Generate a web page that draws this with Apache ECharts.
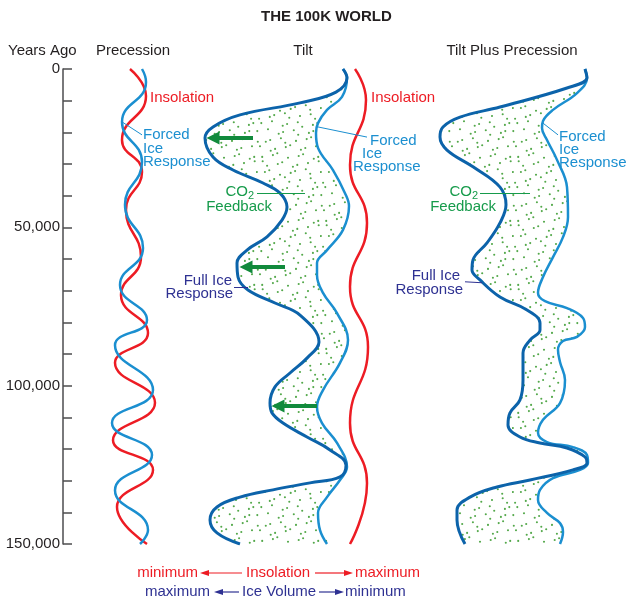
<!DOCTYPE html>
<html><head><meta charset="utf-8">
<script src="https://cdn.jsdelivr.net/npm/echarts@6/dist/echarts.min.js"></script>
<style>html,body{margin:0;padding:0;background:#fff}#c{width:628px;height:600px}</style>
</head><body><div id="c"></div>
<script>
// ---------- DATA (x = relative amplitude within each panel, y = years ago) ----------
var yLabelTicks = [0, 50000, 100000, 150000];

var precInsolX = [-3, 13, -11, 9, -7, 8, -12, 15, -18, 22, -20, 20, -16, 14];
var precInsolY = [0, 8500, 22400, 32500, 44500, 59400, 71400, 83400, 92800, 105400, 117200, 126600, 138300, 150000];
var precIceX = [9, 13, -11, 9, -8, 10, -13, 14, -18, 20, -21, 19, -18, 15, 7];
var precIceY = [0, 4100, 16700, 29400, 42900, 56500, 68200, 79300, 87200, 101400, 111800, 121900, 133000, 145600, 150000];

var tiltInsolX = [55, 66, 50, 67, 50, 68, 50, 67, 50];
var tiltInsolY = [0, 9800, 30300, 48600, 68800, 87800, 111800, 130800, 150000];
var tiltForcedX = [43, 47, 42, 27, 18, 16, 18, 33, 45, 49, 43, 27, 17, 17, 23, 37, 48, 40, 23, 17, 22, 37, 47, 40, 27, 18, 20, 27];
var tiltForcedY = [0, 2800, 8800, 12900, 17100, 20200, 24900, 31900, 39200, 43300, 50800, 57200, 61300, 65100, 70700, 77100, 85600, 92800, 101400, 106700, 111800, 118100, 125700, 129800, 135200, 140200, 145600, 150000];
var tiltFullX = [43, 47, 36, 0, -60, -87, -95, -87, -67, -37, -20, -13, -18, -33, -53, -63, -62, -52, -25, 0, 19, 7, -10, -25, -30, -28, -17, 7, 30, 46, 40, 10, -27, -60, -83, -90, -83, -60];
var tiltFullY = [0, 2800, 7300, 10700, 14500, 18300, 21800, 27800, 31900, 36000, 39200, 43600, 47700, 53000, 57200, 61300, 65700, 69800, 73900, 77700, 86200, 91300, 96000, 100400, 105500, 108600, 111800, 116200, 120300, 125100, 128800, 130700, 132900, 135200, 138300, 142400, 146500, 150000];

var tppForcedX = [73, 75, 65, 41, 31, 30, 35, 45, 55, 56, 51, 41, 31, 26, 33, 55, 71, 73, 65, 51, 46, 48, 53, 48, 31, 26, 35, 61, 75, 76, 68, 41, 28, 26, 35, 48, 51, 48];
var tppForcedY = [0, 2800, 7600, 12900, 16400, 18600, 22400, 28700, 37300, 46700, 53100, 59400, 65700, 70700, 73300, 75500, 78600, 81500, 84600, 85900, 88700, 92500, 98200, 105500, 110800, 114900, 117800, 119400, 121900, 124400, 126600, 129200, 132900, 136100, 140200, 143400, 146200, 150000];
var tppFullX = [73, 75, 55, -12, -52, -69, -72, -65, -39, -12, -6, -12, -25, -39, -40, -32, -12, 15, 28, 28, 18, 11, 11, 8, -2, -4, 8, 28, 55, 73, 75, 61, 18, -15, -42, -55, -55, -47];
var tppFullY = [0, 2800, 6000, 12000, 15200, 18300, 21500, 25600, 30900, 37300, 42900, 48600, 54900, 60300, 63500, 66600, 72000, 76100, 80200, 82400, 85600, 89700, 98200, 104500, 108600, 112400, 116200, 118100, 119700, 122500, 124400, 126600, 129800, 132000, 135200, 139300, 142400, 150000];

// CO2 feedback arrows in Tilt panel: [start x, end x, years]
var co2Arrows = [[-47, -87, 21800], [-15, -54, 62500], [17, -22, 106400]];

// ---------- LAYOUT / STYLE ----------
var PREC = 133, TILT = 300, TPP = 512;
var RED = '#ed1c24', LBLUE = '#1b8fd0', DBLUE = '#0c63aa', NAVY = '#2e3192', GREEN = '#169b4b', AGREEN = '#118a3c', INK = '#231f20';
var FONT = '"Liberation Sans", Arial, Helvetica, sans-serif';

function pts(off, xs, ys) { return xs.map(function (x, i) { return [off + x, ys[i]]; }); }

var tile = document.createElement('canvas');
tile.width = 64; tile.height = 64;
(function () {
  var g = tile.getContext('2d');
  g.fillStyle = '#53a84a';
  for (var r = 0; r < 8; r++) for (var c = 0; c < 8; c++) {
    var jx = ((r * 5 + c * 3) % 7 - 3) * 0.9;
    var jy = ((r * 3 + c * 5 + 2) % 7 - 3) * 0.9;
    var x = (c * 8 + 4 + (r % 2) * 4 + jx + 64) % 64, y = (r * 8 + 4 + jy + 64) % 64;
    g.beginPath(); g.arc(x, y, 1.05, 0, Math.PI * 2); g.fill();
  }
})();
var dotPattern = { image: tile, repeat: 'repeat' };

function fillSeries(off, ax, ay, bx, by) {
  return {
    type: 'custom', coordinateSystem: 'cartesian2d', silent: true, z: 1, clip: true,
    data: [[off, 0]],
    renderItem: function (params, api) {
      var p = [];
      for (var i = 0; i < ax.length; i++) p.push(api.coord([off + ax[i], ay[i]]));
      for (var j = bx.length - 1; j >= 0; j--) p.push(api.coord([off + bx[j], by[j]]));
      return { type: 'polygon', shape: { points: p, smooth: 0.4 }, style: { fill: dotPattern, stroke: null } };
    }
  };
}
function lineSeries(name, off, xs, ys, color, width, z, markLine, smooth) {
  var s = { name: name, type: 'line', data: pts(off, xs, ys), smooth: smooth || 0.4, symbol: 'none', showSymbol: false,
    silent: true, z: z, lineStyle: { color: color, width: width }, itemStyle: { color: color } };
  if (markLine) s.markLine = markLine;
  return s;
}
function leader(x1, x2, y1, y2) { return [{ coord: [x1, y1] }, { coord: [x2, y2] }]; }
function mlThin(color, data) {
  return { silent: true, symbol: ['none', 'none'], label: { show: false }, lineStyle: { color: color, width: 1, type: 'solid' }, emphasis: { disabled: true }, data: data };
}

var arrowML = {
  silent: true, symbol: ['none', 'triangle'], symbolSize: 13, label: { show: false },
  lineStyle: { color: AGREEN, width: 4, type: 'solid' }, itemStyle: { color: AGREEN }, emphasis: { disabled: true },
  data: co2Arrows.map(function (a) { return [{ coord: [TILT + a[0], a[2]] }, { coord: [TILT + a[1], a[2]] }]; })
};

function txt(x, y, t, color, align) {
  return { type: 'text', silent: true, z: 10,
    style: { text: t, x: x, y: y, fill: color, font: '15px ' + FONT, align: align || 'left', verticalAlign: 'middle' } };
}
function co2(xRight, y) {
  return { type: 'text', silent: true, z: 10, style: {
    text: '{a|CO}{b|2}', x: xRight, y: y, align: 'right', verticalAlign: 'middle', fill: GREEN,
    rich: { a: { fontSize: 15, fontFamily: FONT, fill: GREEN, color: GREEN },
            b: { fontSize: 11, fontFamily: FONT, fill: GREEN, color: GREEN, padding: [7, 0, 0, 0] } } } };
}
function arrowG(x1, x2, y, color) {
  var d = x2 > x1 ? 1 : -1;
  return [
    { type: 'line', silent: true, shape: { x1: x1, y1: y, x2: x2 - d * 6, y2: y }, style: { stroke: color, lineWidth: 1.2 } },
    { type: 'polygon', silent: true, shape: { points: [[x2, y], [x2 - d * 9, y - 3], [x2 - d * 9, y + 3]] }, style: { fill: color } }
  ];
}

var graphics = [
  txt(8, 51, 'Years Ago', INK), txt(133, 51, 'Precession', INK, 'center'), txt(303, 51, 'Tilt', INK, 'center'),
  txt(512, 51, 'Tilt Plus Precession', INK, 'center'),
  txt(150, 98, 'Insolation', RED), txt(371, 98, 'Insolation', RED),
  txt(143, 135, 'Forced', LBLUE), txt(143, 149, 'Ice', LBLUE), txt(143, 162, 'Response', LBLUE),
  txt(370, 141, 'Forced', LBLUE), txt(362, 154, 'Ice', LBLUE), txt(353, 167, 'Response', LBLUE),
  txt(559, 137, 'Forced', LBLUE), txt(559, 150, 'Ice', LBLUE), txt(559, 163, 'Response', LBLUE),
  co2(254, 192), txt(272, 207, 'Feedback', GREEN, 'right'),
  co2(478, 192), txt(496, 207, 'Feedback', GREEN, 'right'),
  txt(232, 281, 'Full Ice', NAVY, 'right'), txt(233, 294, 'Response', NAVY, 'right'),
  txt(460, 276, 'Full Ice', NAVY, 'right'), txt(463, 290, 'Response', NAVY, 'right'),
  txt(198, 573, 'minimum', RED, 'right'), txt(246, 573, 'Insolation', RED), txt(355, 573, 'maximum', RED),
  txt(210, 592, 'maximum', NAVY, 'right'), txt(242, 592, 'Ice Volume', NAVY), txt(345, 592, 'minimum', NAVY)
].concat(arrowG(242, 200, 573, RED), arrowG(315, 353, 573, RED), arrowG(239, 214, 592, NAVY), arrowG(319, 344, 592, NAVY));

var chart = echarts.init(document.getElementById('c'));
chart.setOption({
  animation: false,
  backgroundColor: '#fff',
  title: { text: 'THE 100K WORLD', left: 261, top: 9, padding: 0,
    textStyle: { fontSize: 15, fontWeight: 'bold', color: INK, fontFamily: FONT } },
  grid: { left: 63, right: 0, top: 69, bottom: 56, containLabel: false },
  xAxis: { type: 'value', min: 63, max: 628, show: false },
  yAxis: {
    type: 'value', inverse: true, min: 0, max: 150000, interval: 10000,
    axisLine: { show: true, onZero: false, lineStyle: { color: '#4d4d4f', width: 1.5 } },
    axisTick: { show: true, inside: true, length: 9, lineStyle: { color: '#4d4d4f', width: 1.5 } },
    axisLabel: { margin: 3, fontSize: 15, color: INK, fontFamily: FONT,
      formatter: function (v) { return yLabelTicks.indexOf(v) >= 0 ? v.toLocaleString('en-US') : ''; } },
    splitLine: { show: false }
  },
  series: [
    fillSeries(TILT, tiltFullX, tiltFullY, tiltForcedX, tiltForcedY),
    fillSeries(TPP, tppFullX, tppFullY, tppForcedX, tppForcedY),
    lineSeries('Precession insolation', PREC, precInsolX, precInsolY, RED, 2.5, 3,
      mlThin(NAVY, [leader(TILT - 66, TILT - 52, 68800, 68800), leader(TPP - 47, TPP - 30, 67200, 67500)]), 0.5),
    lineSeries('Precession forced ice response', PREC, precIceX, precIceY, LBLUE, 2.5, 4,
      mlThin(LBLUE, [leader(PREC - 11, PREC + 9, 16700, 20800), leader(TILT + 18, TILT + 67, 18300, 21500), leader(TPP + 31, TPP + 46, 17100, 20800)]), 0.5),
    lineSeries('Tilt insolation', TILT, tiltInsolX, tiltInsolY, RED, 2.5, 3,
      mlThin(GREEN, [leader(TILT - 43, TILT + 5, 39200, 39200), leader(TPP - 32, TPP + 18, 39200, 39200)]), 0.5),
    lineSeries('Tilt forced ice response', TILT, tiltForcedX, tiltForcedY, LBLUE, 2.5, 3),
    lineSeries('Tilt full ice response', TILT, tiltFullX, tiltFullY, DBLUE, 3, 4, arrowML),
    lineSeries('Tilt+precession forced ice response', TPP, tppForcedX, tppForcedY, LBLUE, 2.5, 3),
    lineSeries('Tilt+precession full ice response', TPP, tppFullX, tppFullY, DBLUE, 3, 4)
  ],
  graphic: graphics
});
</script></body></html>
